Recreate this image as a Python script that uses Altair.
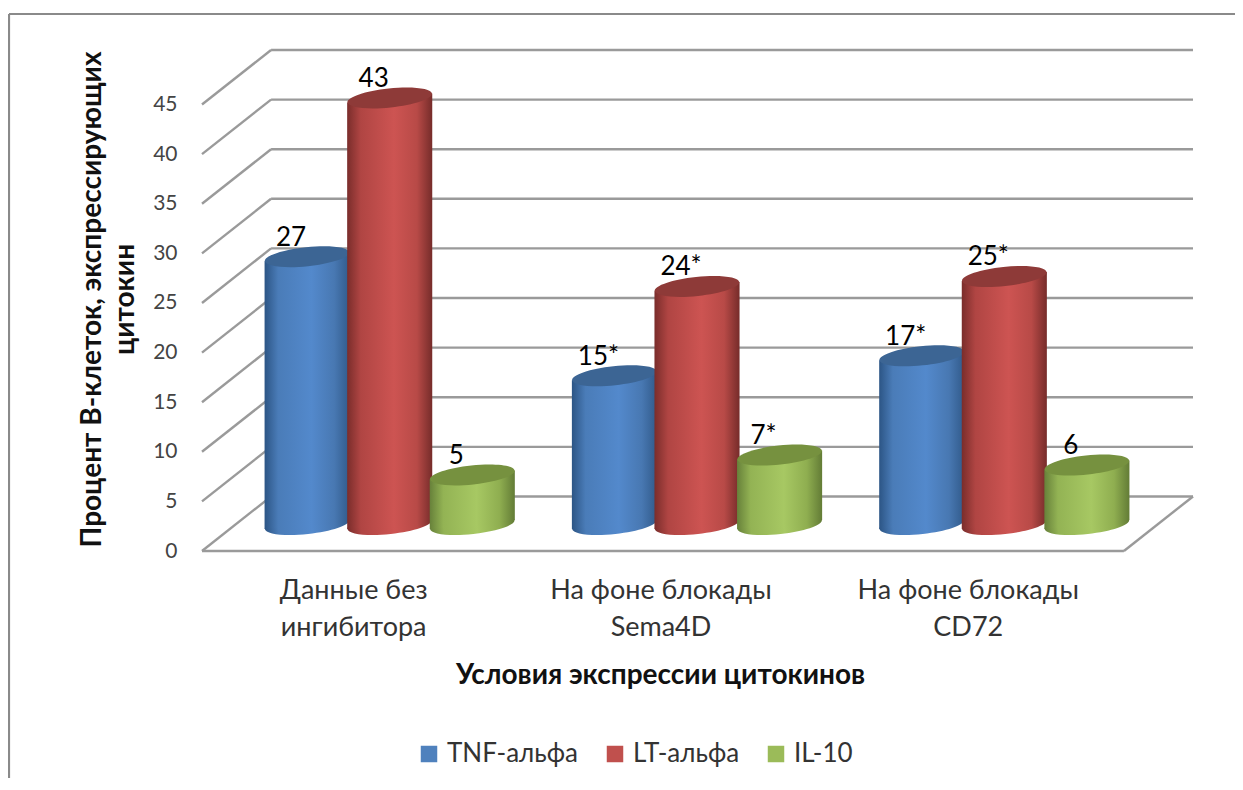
import altair as alt
import pandas as pd

# --- values ---
categories = ["Данные без|ингибитора", "На фоне блокады|Sema4D", "На фоне блокады|CD72"]
series = ["TNF-альфа", "LT-альфа", "IL-10"]
tnf = [27, 15, 17]
lt = [43, 24, 25]
il10 = [5, 7, 6]
tnf_labels = ["27", "15*", "17*"]
lt_labels = ["43", "24*", "25*"]
il10_labels = ["5", "7*", "6"]
y_ticks = [0, 5, 10, 15, 20, 25, 30, 35, 40, 45]

legend_colors = ["#4f81bd", "#c0504d", "#9bbb59"]
top_colors = ["#3c6594", "#8e3a38", "#76913f"]
body_stops = [
    ["#2c5585", "#4a7cb8", "#5389cc", "#4878b2", "#315a8a"],
    ["#7a2d2b", "#b04543", "#cd5452", "#b84a47", "#762c2a"],
    ["#67813a", "#93b354", "#a7c863", "#8fae50", "#637c36"],
]
FONT = "Lato"
GRID = "#9a9a9a"

# --- pseudo 3D projection, in axis units ---
UNIT_X = 307.0            # px per category
X_MIN, X_MAX = -0.4919, 2.7329
Y_MAX = 50.6
WALL_DX = 69 / UNIT_X     # depth of the box along x
WALL_DY = 5.5             # depth of the box along y
BAR_DX = 36.5 / UNIT_X    # bars stand half way into the box
BAR_DY = 2.67
STEP = 82.5 / UNIT_X      # distance between cylinders in a group
HALF = 42.5 / UNIT_X      # cylinder radius
TILT = 0.45               # rise of the elliptical ends
ELLIPSE = "M-1,0 A1,0.225 0 1,1 1,0 A1,0.225 0 1,1 -1,0 Z"
ELLIPSE_SIZE = 85 ** 2

x_axis = alt.Axis(
    values=[0, 1, 2],
    title="Условия  экспрессии цитокинов",
    titleFont=FONT, titleFontSize=28, titleFontWeight="bold", titleColor="#111111",
    titleX=458, titleY=110, titleAnchor="middle",
    labelExpr="split(['" + "','".join(categories) + "'][datum.value], '|')",
    labelFont=FONT, labelFontSize=27, labelColor="#333333",
    labelLineHeight=37, labelPadding=26, labelLimit=400, labelBound=False,
    labelOverlap=False, labelFlush=False,
    domain=False, ticks=False, grid=False,
)
y_axis = alt.Axis(
    values=y_ticks,
    title=["Процент В-клеток, экспрессирующих", "цитокин"],
    titleFont=FONT, titleFontSize=28, titleFontWeight="bold", titleColor="#111111",
    titleX=-96, titleY=250, titleAnchor="middle", titleAngle=270,
    titleLineHeight=33,
    labelFont=FONT, labelFontSize=21, labelColor="#444444",
    labelPadding=25, labelOffset=0,
    domain=False, ticks=False, grid=False,
)
X = alt.X("x:Q", scale=alt.Scale(domain=[X_MIN, X_MAX], nice=False, zero=False), axis=x_axis)
Y = alt.Y("y:Q", scale=alt.Scale(domain=[0, Y_MAX], nice=False, zero=False), axis=y_axis)

# walls and floor
segs = []
x_back_l = X_MIN + WALL_DX
for v in y_ticks:
    segs.append(dict(x=X_MIN, y=v, x2=x_back_l, y2=v + WALL_DY))
    segs.append(dict(x=x_back_l, y=v + WALL_DY, x2=X_MAX, y2=v + WALL_DY))
segs.append(dict(x=X_MIN, y=0, x2=X_MAX - WALL_DX, y2=0))
segs.append(dict(x=X_MAX - WALL_DX, y=0, x2=X_MAX, y2=WALL_DY))
walls = alt.Chart(pd.DataFrame(segs)).mark_rule(color=GRID, strokeWidth=2.4).encode(
    x=X, x2="x2:Q", y=Y, y2="y2:Q",
)

# page frame
frame_left = alt.Chart(pd.DataFrame({"a": [0]})).mark_rule(color="#8a8a8a", strokeWidth=2.2).encode(
    x=alt.value(-193), y=alt.value(-35), y2=alt.value(730)
)
frame_top = alt.Chart(pd.DataFrame({"a": [0]})).mark_rule(color="#8a8a8a", strokeWidth=2.2).encode(
    y=alt.value(-35), x=alt.value(-193), x2=alt.value(1040)
)

# legend carrier: no visible marks, the colours live in the legend
legend_df = pd.DataFrame({"series": series, "x": [0, 0, 0], "y": [0, 0, 0]})
legend_layer = alt.Chart(legend_df).mark_square(size=0).encode(
    x=X, y=Y,
    color=alt.Color(
        "series:N",
        scale=alt.Scale(domain=series, range=legend_colors),
        sort=series,
        legend=alt.Legend(
            title=None, orient="none", direction="horizontal", columns=3,
            legendX=214, legendY=692, symbolType="square", symbolSize=272,
            symbolStrokeWidth=0, symbolOpacity=1, labelFont=FONT, labelFontSize=26,
            labelColor="#333333", columnPadding=23, labelOffset=5,
        ),
    ),
)

layers = [frame_left, frame_top, walls, legend_layer]

# cylinders, drawn from the back series to the front one
all_values = [tnf, lt, il10]
all_labels = [tnf_labels, lt_labels, il10_labels]
label_rows = []
for s, values in enumerate(all_values):
    grad = alt.Gradient(
        gradient="linear", x1=0, x2=1, y1=0, y2=0,
        stops=[alt.GradientStop(offset=o, color=c)
               for o, c in zip([0, 0.16, 0.55, 0.82, 1], body_stops[s])],
    )
    centers, tops, body = [], [], []
    for g, v in enumerate(values):
        cx = g + BAR_DX + (s - 1) * STEP
        centers.append(cx)
        tops.append(v + BAR_DY)
        body.append(dict(g=g, x=cx - HALF, y=v + BAR_DY - TILT, y2=BAR_DY - TILT))
        body.append(dict(g=g, x=cx + HALF, y=v + BAR_DY + TILT, y2=BAR_DY + TILT))
        label_rows.append(dict(x=cx, y=v + BAR_DY, t=all_labels[s][g]))
    bottom = alt.Chart(pd.DataFrame({"x": centers, "y": [BAR_DY] * 3})).mark_point(
        shape=ELLIPSE, size=ELLIPSE_SIZE, filled=True, color=grad, opacity=1, strokeWidth=0, angle=354
    ).encode(x=X, y=Y)
    side = alt.Chart(pd.DataFrame(body)).mark_area(color=grad, opacity=1).encode(
        x=X, y=Y, y2="y2:Q", detail="g:N"
    )
    top = alt.Chart(pd.DataFrame({"x": centers, "y": tops})).mark_point(
        shape=ELLIPSE, size=ELLIPSE_SIZE, filled=True, color=top_colors[s], opacity=1, strokeWidth=0, angle=354
    ).encode(x=X, y=Y)
    layers += [bottom, side, top]

text = alt.Chart(pd.DataFrame(label_rows)).mark_text(
    font=FONT, fontSize=26, color="#000000", dx=-16, dy=-19
).encode(x=X, y=Y, text="t:N")
layers.append(text)

chart = alt.layer(*layers).properties(
    width=991, height=502,
    autosize="none",
    padding={"left": 194, "top": 41, "right": 42, "bottom": 227},
    background="white",
).configure_view(stroke=None)

chart.save("out.html", embed_options={"renderer": "svg", "actions": False})
